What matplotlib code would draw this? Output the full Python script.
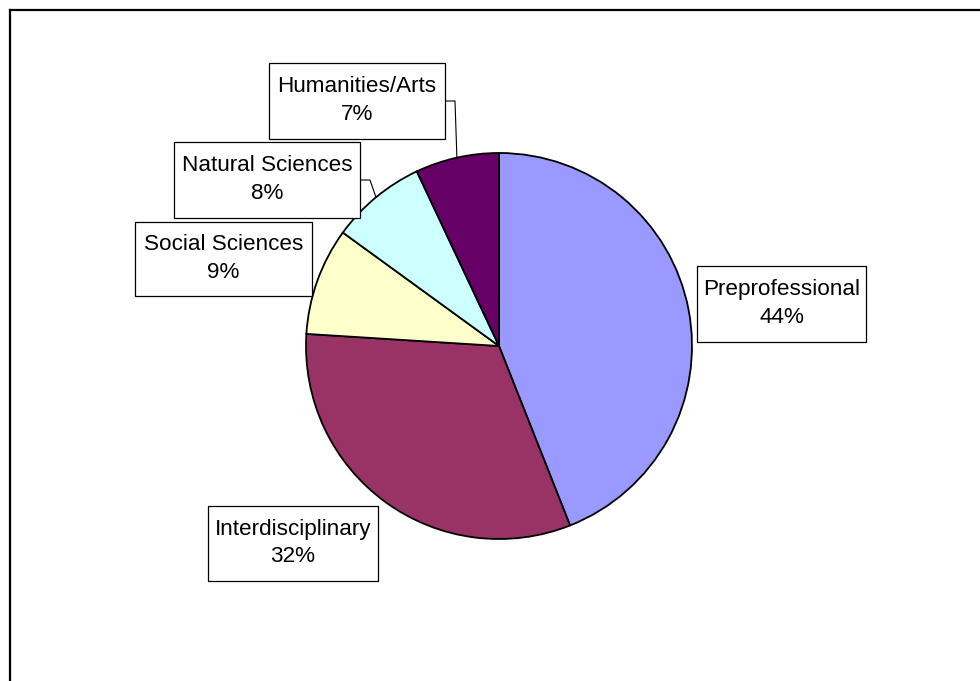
import numpy as np
import matplotlib
matplotlib.use("Agg")
import matplotlib.pyplot as plt
from matplotlib.patches import Rectangle
from matplotlib.lines import Line2D

categories = ["Preprofessional", "Interdisciplinary", "Social Sciences", "Natural Sciences", "Humanities/Arts"]
values = [44, 32, 9, 8, 7]
colors = ["#9999FF", "#993366", "#FFFFCC", "#CCFFFF", "#660066"]

W, H = 980, 681
fig = plt.figure(figsize=(W / 100, H / 100), dpi=100)
ax = fig.add_axes([0, 0, 1, 1])

cx, cy, R = 499, H - 346, 193
wedges, _ = ax.pie(values, colors=colors, startangle=90, counterclock=False,
                   center=(cx, cy), radius=R, frame=True,
                   wedgeprops=dict(edgecolor="black", linewidth=1.3))
ax.set_xlim(0, W)
ax.set_ylim(0, H)
ax.axis("off")

# label boxes (left, top, right, bottom) in pixel coords
boxes = [(697, 266, 866, 342), (208, 506, 378, 581), (135, 222, 312, 296),
         (174, 142, 360, 218), (269, 63, 445, 139)]
leader = [False, False, False, True, True]

for w, cat, v, (l, t, r, b), ld in zip(wedges, categories, values, boxes, leader):
    ax.add_patch(Rectangle((l, H - b), r - l, b - t, facecolor="white",
                           edgecolor="black", linewidth=0.9, zorder=3))
    ax.text((l + r) / 2, H - (t + b) / 2 + 0.5, f"{cat}\n{v}%", ha="center", va="center",
            fontsize=16.2, family="Liberation Sans", linespacing=1.39, zorder=4)
    if ld:
        mid = np.deg2rad((w.theta1 + w.theta2) / 2)
        ex, ey = cx + R * np.cos(mid), cy + R * np.sin(mid)
        my = H - (t + b) / 2
        ax.plot([r, r + 10, ex], [my, my, ey], color="black", linewidth=0.8, zorder=2)

# outer chart frame
fig.add_artist(Line2D([9.5 / W, 1], [1 - 9.5 / H, 1 - 9.5 / H], color="black", linewidth=1.6))
fig.add_artist(Line2D([9.5 / W, 9.5 / W], [0, 1 - 9.5 / H], color="black", linewidth=1.6))

fig.savefig("out.png", dpi=100)
